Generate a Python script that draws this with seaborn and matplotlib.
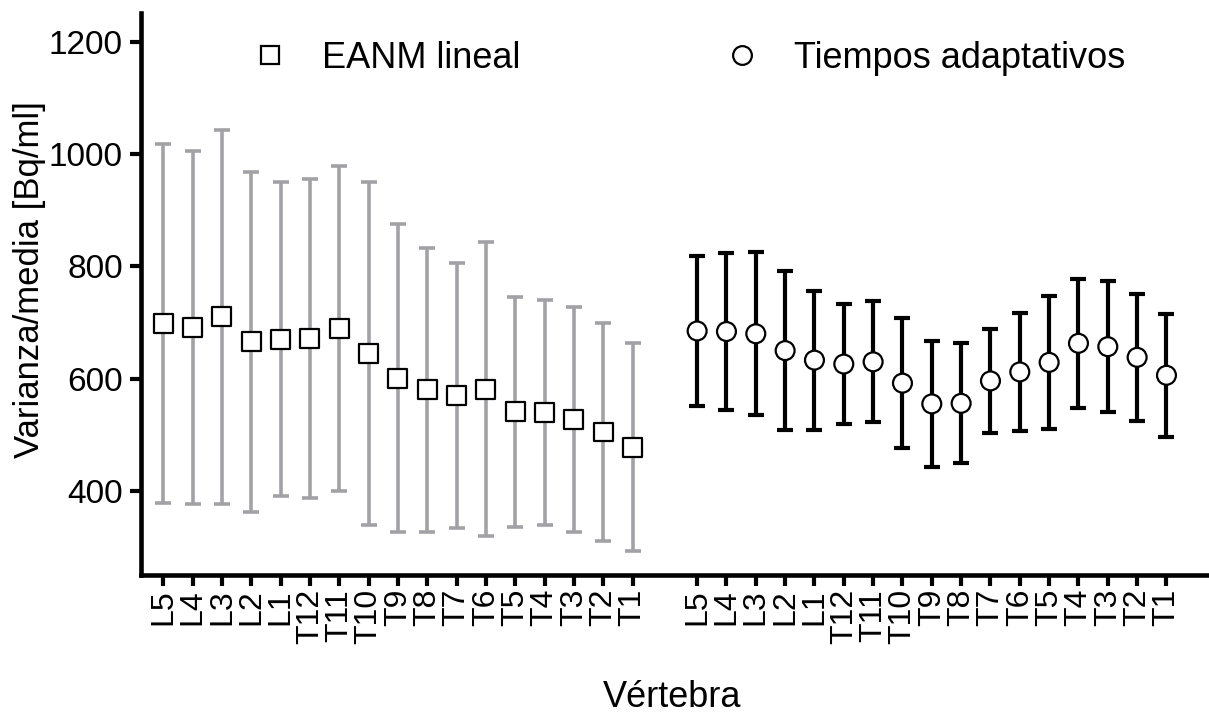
import numpy as np
import pandas as pd
import seaborn as sns
import matplotlib.pyplot as plt
from matplotlib.lines import Line2D

sns.set_theme(style="ticks")
plt.rcParams['font.family'] = ['Liberation Sans', 'DejaVu Sans']
plt.rcParams['text.color'] = 'black'
plt.rcParams['axes.labelcolor'] = 'black'
plt.rcParams['xtick.color'] = 'black'
plt.rcParams['ytick.color'] = 'black'

vertebrae = ["L5", "L4", "L3", "L2", "L1", "T12", "T11", "T10", "T9",
             "T8", "T7", "T6", "T5", "T4", "T3", "T2", "T1"]

# EANM lineal: mean and standard deviation
eanm_mean = [698, 691, 710, 666, 670, 672, 689, 645, 601,
             580, 570, 581, 541, 540, 527, 505, 478]
eanm_sd = [320, 314, 334, 303, 280, 284, 290, 305, 275,
           253, 237, 262, 205, 200, 200, 194, 185]

# Tiempos adaptativos: mean and standard deviation
adapt_mean = [685, 684, 680, 650, 633, 626, 630, 592, 555,
              556, 596, 612, 629, 663, 657, 638, 606]
adapt_sd = [133, 140, 145, 142, 124, 107, 108, 116, 113,
            107, 92, 105, 119, 115, 117, 113, 110]

n = len(vertebrae)
pos1 = np.arange(n, dtype=float)
pos2 = pos1 + n + 1.2

df = pd.DataFrame({
    "pos": np.concatenate([pos1, pos2]),
    "valor": eanm_mean + adapt_mean,
    "sd": eanm_sd + adapt_sd,
    "metodo": ["EANM lineal"] * n + ["Tiempos adaptativos"] * n,
})

fig = plt.figure(figsize=(12.09, 7.13), dpi=100)
ax = fig.add_axes([0.1166, 0.1935, 0.8834, 0.7885])

gray = "#a2a2a6"
ax.errorbar(pos1, eanm_mean, yerr=eanm_sd, fmt="none", ecolor=gray,
            elinewidth=2.6, capsize=5.8, capthick=2.6, zorder=2)
ax.errorbar(pos2, adapt_mean, yerr=adapt_sd, fmt="none", ecolor="black",
            elinewidth=3.0, capsize=5.8, capthick=3.0, zorder=2)

sns.scatterplot(data=df, x="pos", y="valor", style="metodo",
                markers={"EANM lineal": "s", "Tiempos adaptativos": "o"},
                s=185, facecolor="white", edgecolor="black", linewidth=1.6,
                legend=False, ax=ax, zorder=3)

ax.set_xlim(-0.76, pos2[-1] + 1.45)
ax.set_ylim(250, 1252)
ax.set_yticks([400, 600, 800, 1000, 1200])
ax.set_xticks(np.concatenate([pos1, pos2]))
ax.set_xticklabels(vertebrae + vertebrae, rotation=90, fontsize=23)
ax.tick_params(axis="y", labelsize=24, width=3, length=8, pad=5)
ax.tick_params(axis="x", width=3, length=8, pad=2)

for side in ["top", "right"]:
    ax.spines[side].set_visible(False)
for side in ["left", "bottom"]:
    ax.spines[side].set_linewidth(3.3)
    ax.spines[side].set_color("black")

ax.set_ylabel("Varianza/media [Bq/ml]", fontsize=25)
ax.yaxis.set_label_coords(-0.104, 0.525)
ax.yaxis.label.set_va("center")
ax.set_xlabel("Vértebra", fontsize=26)
ax.xaxis.set_label_coords(0.497, -0.217)
ax.xaxis.label.set_va("center")

handles = [
    Line2D([], [], linestyle="none", marker="s", markersize=13.5,
           markerfacecolor="white", markeredgecolor="black",
           markeredgewidth=1.6, label="EANM lineal"),
    Line2D([], [], linestyle="none", marker="o", markersize=13.5,
           markerfacecolor="white", markeredgecolor="black",
           markeredgewidth=1.6, label="Tiempos adaptativos"),
]
ax.legend(handles=handles, ncol=2, frameon=False, fontsize=26,
          loc="center left", bbox_to_anchor=(234 / 1209, 1 - 58 / 713),
          bbox_transform=fig.transFigure, borderpad=0, borderaxespad=0,
          handlelength=2.0, handletextpad=0.44, columnspacing=5.14)

fig.savefig("out.png", dpi=100)
